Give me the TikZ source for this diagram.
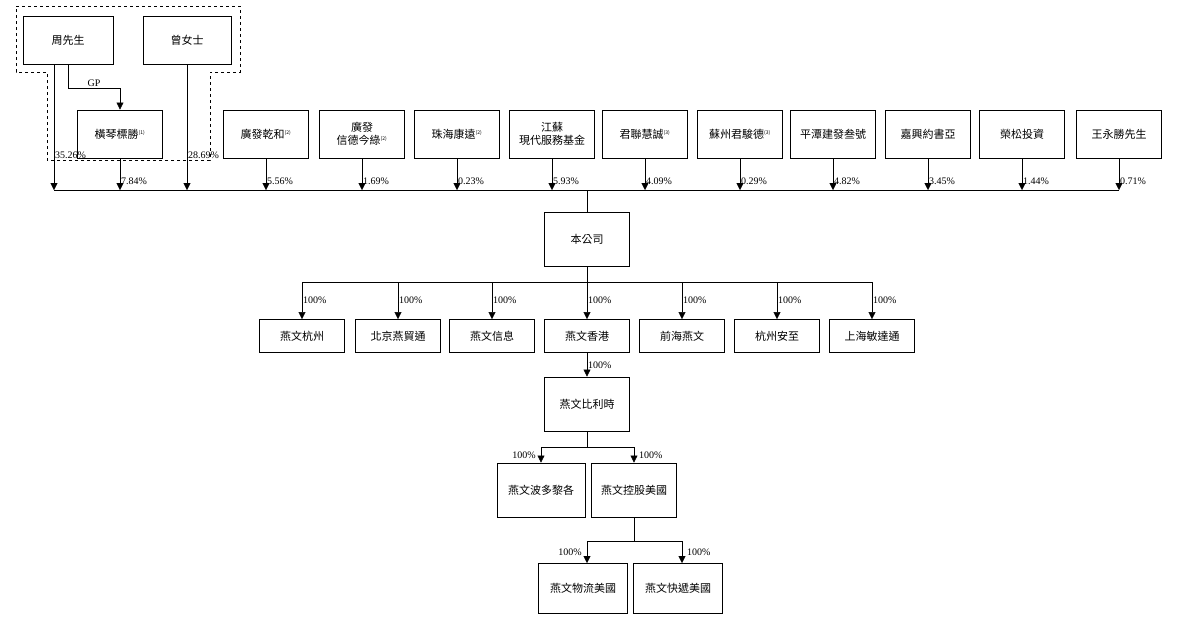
\documentclass[tikz,border=0pt]{standalone}
\usepackage{fontspec}
\setmainfont{Liberation Serif}
\newfontfamily\cjk{Noto Sans CJK TC}
\usepackage{tikz}
\usetikzlibrary{arrows.meta,calc}
\tikzset{ent/.style={draw,thick,fill=white,font=\cjk\fontsize{11}{13}\selectfont,align=center,minimum width=85pt,minimum height=48pt,inner sep=1pt}}
\tikzset{sml/.style={ent,minimum height=33pt}}
\tikzset{pct/.style={font=\fontsize{10}{10}\selectfont,inner sep=1pt}}
\tikzset{arr/.style={-{Triangle[length=7pt,width=7pt]},thin}}
\newcommand{\fn}[1]{\textsuperscript{\fontsize{5}{5}\selectfont(#1)}}
\begin{document}
\begin{tikzpicture}[x=1pt,y=-1pt]
        \useasboundingbox (0,0) rectangle (1180,622);
        \draw[dashed] (16,6)--(240,6)--(240,72)--(210,72)--(210,160)--(47,160)--(47,72)--(16,72)--cycle;
        \node[ent,minimum width=90pt] (zhou) at (68,40) {周先生};
        \node[ent,minimum width=88pt] (zeng) at (187,40) {曾女士};
        \node[ent] (hq) at (120,134) {橫琴標勝\fn{1}};
        \coordinate (gp1) at (68,88);
        \draw[arr] (zhou.south -| gp1) -- (gp1) -- node[pct,above] {GP} (gp1 -| hq) -- (hq);
        % shareholders
        \foreach \nm/\x/\txt in {gq/266/廣發乾和\fn{2}, xd/362/廣發\\信德今綠\fn{2}, zh/457/珠海康遠\fn{2}, js/552/江蘇\\現代服務基金,
          jl/645/君聯慧誠\fn{3}, sz/740/蘇州君駿德\fn{3}, pt/833/平潭建發叁號, jx/928/嘉興約書亞, rs/1022/榮松投資, wy/1119/王永勝先生}
          \node[ent] (\nm) at (\x,134) {\txt};
        \coordinate (barL) at (54,190);
        \coordinate (barR) at (1119,190);
        \draw (barL) -- (barR);
        \foreach \x/\src/\p in {54/zhou/35.26\%, 120/hq/7.84\%, 187/zeng/28.69\%, 266/gq/5.56\%, 362/xd/1.69\%, 457/zh/0.23\%,
          552/js/5.93\%, 645/jl/4.09\%, 740/sz/0.29\%, 833/pt/4.82\%, 928/jx/3.45\%, 1022/rs/1.44\%, 1119/wy/0.71\%}{
          \coordinate (end) at (\x,190);
          \draw[arr] (\src.south -| end) -- (end) node[pct,anchor=west,pos=0.72] {\p};
        }
        % company
        \node[ent,minimum height=54pt] (co) at (587,239) {本公司};
        \draw (587,190) -- (co);
        \coordinate (b1) at (587,282);
        \draw (co) -- (b1);
        \draw (302,282) -- (872,282);
        \foreach \nm/\x/\txt in {hz/302/燕文杭州, bj/398/北京燕貿通, xx/492/燕文信息, hk/587/燕文香港, qh/682/前海燕文, az/777/杭州安至, sh/872/上海敏達通}{
          \node[sml] (\nm) at (\x,336) {\txt};
          \draw[arr] (\x,282) -- (\nm) node[pct,anchor=west,pos=0.5] {100\%};
        }
        \node[ent,minimum height=54pt] (be) at (587,404) {燕文比利時};
        \draw[arr] (hk) -- (be) node[pct,anchor=west,pos=0.5] {100\%};
        \node[ent,minimum width=88pt,minimum height=54pt] (pr) at (541,490) {燕文波多黎各};
        \node[ent,minimum height=54pt] (us) at (634,490) {燕文控股美國};
        \draw (be) -- (587,447);
        \draw (541,447) -- (634,447);
        \draw[arr] (541,447) -- (pr) node[pct,anchor=east,pos=0.5,xshift=-4pt] {100\%};
        \draw[arr] (634,447) -- (us) node[pct,anchor=west,pos=0.5,xshift=4pt] {100\%};
        \node[ent,minimum width=89pt,minimum height=50pt] (wl) at (583,588) {燕文物流美國};
        \node[ent,minimum width=89pt,minimum height=50pt] (kd) at (678,588) {燕文快遞美國};
        \draw (us) -- (634,541);
        \draw (587,541) -- (682,541);
        \draw[arr] (587,541) -- (587,563) node[pct,anchor=east,pos=0.5,xshift=-4pt] {100\%};
        \draw[arr] (682,541) -- (682,563) node[pct,anchor=west,pos=0.5,xshift=4pt] {100\%};
\end{tikzpicture}
\end{document}
